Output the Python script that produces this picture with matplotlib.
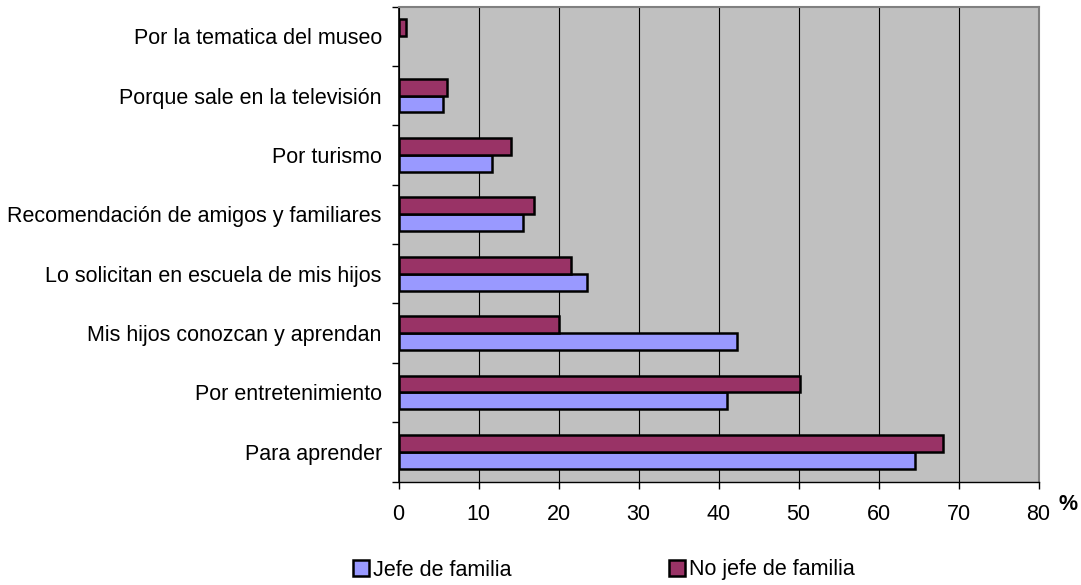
import matplotlib
matplotlib.use("Agg")
import matplotlib.pyplot as plt
import numpy as np
from matplotlib.patches import Patch

categories = [
    "Para aprender",
    "Por entretenimiento",
    "Mis hijos conozcan y aprendan",
    "Lo solicitan en escuela de mis hijos",
    "Recomendación de amigos y familiares",
    "Por turismo",
    "Porque sale en la televisión",
    "Por la tematica del museo",
]
jefe = [64.6, 41.0, 42.3, 23.5, 15.6, 11.7, 5.5, 0.0]
no_jefe = [68.0, 50.2, 20.1, 21.5, 16.9, 14.1, 6.1, 0.9]
series_names = ["Jefe de familia", "No jefe de familia"]
xticks = [0, 10, 20, 30, 40, 50, 60, 70, 80]

plt.rcParams['font.family'] = ['Liberation Sans', 'DejaVu Sans']
FS = 15.5

fig = plt.figure(figsize=(10.81, 5.85), dpi=100)
ax = fig.add_axes([398.5/1081, 1-481.5/585, 640/1081, 475/585])
ax.set_facecolor('#C0C0C0')

y = np.arange(len(categories))
h = 0.285
c_jefe = '#9999FF'
c_no = '#993366'
lw_j = [1.8 if v > 0 else 0 for v in jefe]
lw_n = [1.8 if v > 0 else 0 for v in no_jefe]
ax.barh(y - h/2, jefe, height=h, color=c_jefe, edgecolor='black', linewidth=lw_j, zorder=3)
ax.barh(y + h/2, no_jefe, height=h, color=c_no, edgecolor='black', linewidth=lw_n, zorder=3)

ax.set_xlim(0, 80)
ax.set_ylim(-0.5, len(categories) - 0.5)
ax.set_xticks(xticks)
ax.set_xticklabels([str(t) for t in xticks], fontsize=FS)
ax.tick_params(axis='x', direction='out', length=5, width=1, pad=11)
ax.set_yticks(y)
ax.set_yticklabels(categories, fontsize=FS)
ax.tick_params(axis='y', which='major', length=0, pad=12)
ax.set_yticks(np.arange(-0.5, len(categories)), minor=True)
ax.tick_params(axis='y', which='minor', direction='out', length=5, width=1)

ax.xaxis.grid(True, color='black', linewidth=0.8, zorder=1)
ax.set_axisbelow(True)

ax.spines['left'].set_color('black')
ax.spines['left'].set_linewidth(1.2)
ax.spines['bottom'].set_color('black')
ax.spines['bottom'].set_linewidth(1.0)
ax.spines['top'].set_color('#808080')
ax.spines['top'].set_linewidth(1.5)
ax.spines['right'].set_color('#808080')
ax.spines['right'].set_linewidth(1.5)

fig.text(1068/1081, 1-504/585, '%', fontsize=FS, fontweight='bold', ha='center', va='center')

handles = [Patch(facecolor=c_jefe, edgecolor='black', linewidth=1.8),
           Patch(facecolor=c_no, edgecolor='black', linewidth=1.8)]
fig.legend(handles, series_names, loc='center', bbox_to_anchor=(604/1081, 1-570/585),
           ncol=2, frameon=False, fontsize=FS, handlelength=0.75, handleheight=0.75,
           handletextpad=0.2, columnspacing=7.3, borderpad=0)

fig.savefig('out.png', dpi=100)
